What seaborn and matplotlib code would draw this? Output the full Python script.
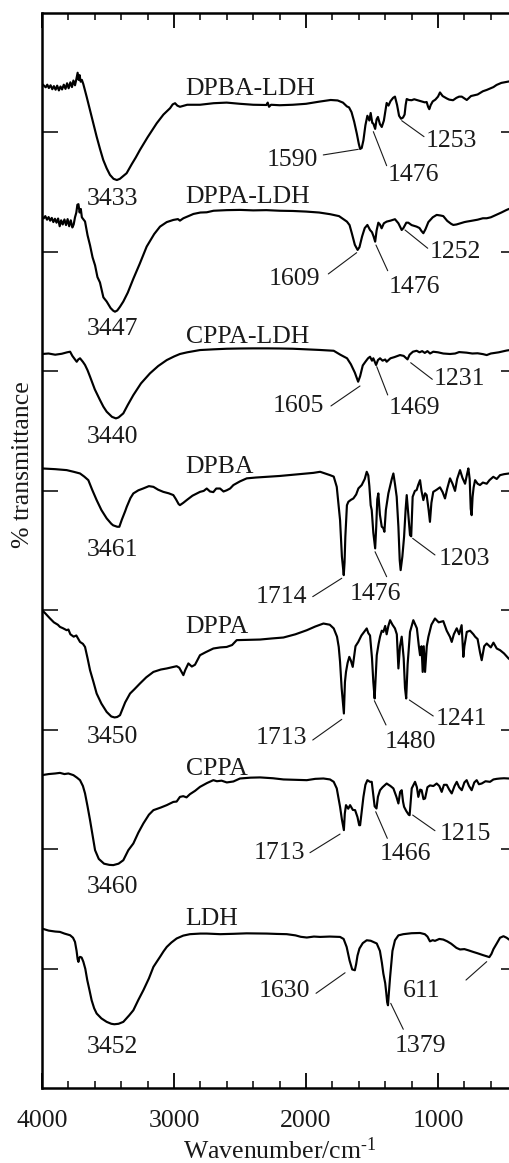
import numpy as np
import matplotlib
matplotlib.use("Agg")
import matplotlib.pyplot as plt
import seaborn as sns
from matplotlib.ticker import MultipleLocator

# ---- FTIR spectra: (wavenumber / cm^-1, stacked % transmittance, arbitrary offset units) ----
dpba_ldh = [
    (4000, 8.406), (3985, 8.392), (3972, 8.378), (3960, 8.400), (3948, 8.372), (3935, 8.395),
    (3922, 8.362), (3910, 8.388), (3897, 8.358), (3885, 8.392), (3872, 8.352), (3860, 8.385),
    (3848, 8.360), (3835, 8.400), (3822, 8.365), (3810, 8.412), (3798, 8.370), (3785, 8.420),
    (3773, 8.380), (3762, 8.435), (3750, 8.395), (3740, 8.445), (3730, 8.500), (3722, 8.440),
    (3715, 8.480), (3707, 8.425), (3698, 8.440), (3687, 8.405), (3675, 8.355), (3662, 8.300),
    (3645, 8.225), (3624, 8.132), (3605, 8.050), (3586, 7.965), (3560, 7.860), (3536, 7.770),
    (3510, 7.700), (3485, 7.645), (3458, 7.612), (3433, 7.602), (3410, 7.612), (3385, 7.635),
    (3359, 7.659), (3320, 7.735), (3290, 7.790), (3258, 7.854), (3200, 7.960), (3131, 8.077),
    (3080, 8.150), (3030, 8.203), (3010, 8.235), (2992, 8.245), (2975, 8.225), (2955, 8.215),
    (2900, 8.232), (2803, 8.232), (2700, 8.245), (2601, 8.250), (2500, 8.240), (2400, 8.232),
    (2300, 8.230), (2290, 8.250), (2280, 8.215), (2265, 8.232), (2200, 8.228), (2100, 8.232),
    (2000, 8.240), (1900, 8.258), (1813, 8.272), (1760, 8.268), (1720, 8.250), (1690, 8.218),
    (1674, 8.210), (1655, 8.170), (1635, 8.090), (1615, 7.990), (1600, 7.905), (1590, 7.862),
    (1578, 7.870), (1565, 7.935), (1550, 8.060), (1535, 8.140), (1520, 8.100), (1510, 8.163),
    (1498, 8.080), (1490, 8.075), (1476, 8.030), (1465, 8.110), (1455, 8.130), (1440, 8.070),
    (1426, 8.046), (1410, 8.100), (1400, 8.170), (1389, 8.247), (1375, 8.225), (1360, 8.262),
    (1340, 8.290), (1326, 8.300), (1310, 8.230), (1295, 8.140), (1280, 8.115), (1265, 8.125),
    (1253, 8.150), (1245, 8.230), (1237, 8.280), (1220, 8.272), (1200, 8.270), (1180, 8.278),
    (1162, 8.272), (1140, 8.265), (1120, 8.258), (1100, 8.252), (1086, 8.255), (1075, 8.215),
    (1066, 8.195), (1055, 8.230), (1040, 8.260), (1020, 8.275), (1000, 8.300), (985, 8.335),
    (965, 8.305), (950, 8.295), (934, 8.285), (915, 8.275), (900, 8.272), (886, 8.270),
    (860, 8.290), (840, 8.300), (820, 8.300), (800, 8.285), (782, 8.272), (765, 8.290),
    (750, 8.305), (732, 8.310), (700, 8.318), (682, 8.330), (660, 8.345), (631, 8.356),
    (600, 8.370), (580, 8.380), (556, 8.398), (520, 8.415), (465, 8.426), (430, 8.435),
    (400, 8.440),
]

dppa_ldh = [
    (4000, 7.295), (3988, 7.280), (3975, 7.300), (3962, 7.270), (3950, 7.292), (3938, 7.262),
    (3926, 7.285), (3914, 7.250), (3902, 7.278), (3890, 7.245), (3878, 7.280), (3866, 7.215),
    (3855, 7.265), (3843, 7.230), (3830, 7.272), (3818, 7.225), (3806, 7.275), (3794, 7.215),
    (3782, 7.265), (3770, 7.205), (3760, 7.230), (3750, 7.290), (3740, 7.330), (3732, 7.395),
    (3724, 7.400), (3715, 7.330), (3706, 7.360), (3698, 7.290), (3688, 7.275), (3674, 7.255),
    (3655, 7.140), (3636, 7.055), (3617, 6.955), (3598, 6.888), (3580, 6.790), (3561, 6.745),
    (3535, 6.620), (3510, 6.585), (3480, 6.530), (3460, 6.508), (3447, 6.500), (3430, 6.510),
    (3410, 6.540), (3384, 6.585), (3350, 6.660), (3308, 6.776), (3260, 6.900), (3207, 7.045),
    (3150, 7.150), (3106, 7.212), (3055, 7.250), (3005, 7.268), (2970, 7.275), (2955, 7.262),
    (2929, 7.282), (2880, 7.305), (2853, 7.318), (2800, 7.330), (2752, 7.332), (2700, 7.345),
    (2600, 7.350), (2500, 7.352), (2400, 7.348), (2300, 7.350), (2200, 7.345), (2100, 7.343),
    (2000, 7.338), (1900, 7.330), (1817, 7.316), (1750, 7.300), (1690, 7.254), (1670, 7.225),
    (1653, 7.157), (1630, 7.060), (1609, 7.017), (1595, 7.040), (1575, 7.130), (1555, 7.200),
    (1535, 7.226), (1515, 7.184), (1500, 7.165), (1488, 7.130), (1476, 7.086), (1465, 7.180),
    (1452, 7.245), (1440, 7.230), (1427, 7.198), (1410, 7.240), (1389, 7.254), (1360, 7.262),
    (1326, 7.274), (1300, 7.240), (1275, 7.184), (1262, 7.200), (1240, 7.245), (1225, 7.245),
    (1200, 7.225), (1162, 7.212), (1140, 7.200), (1125, 7.175), (1111, 7.157), (1095, 7.190),
    (1073, 7.250), (1040, 7.290), (1010, 7.310), (980, 7.305), (960, 7.300), (930, 7.260),
    (900, 7.235), (884, 7.226), (860, 7.230), (830, 7.240), (800, 7.250), (782, 7.254),
    (750, 7.260), (700, 7.270), (660, 7.282), (631, 7.282), (600, 7.290), (560, 7.310),
    (520, 7.330), (480, 7.352), (440, 7.370), (400, 7.380),
]

cppa_ldh = [
    (4000, 6.146), (3950, 6.150), (3900, 6.140), (3850, 6.148), (3810, 6.160), (3787, 6.165),
    (3770, 6.130), (3750, 6.100), (3737, 6.081), (3725, 6.100), (3712, 6.110), (3690, 6.080),
    (3674, 6.054), (3655, 6.010), (3636, 5.956), (3600, 5.850), (3561, 5.761), (3535, 5.705),
    (3510, 5.663), (3470, 5.620), (3440, 5.607), (3420, 5.615), (3384, 5.649), (3350, 5.720),
    (3308, 5.802), (3250, 5.900), (3182, 5.984), (3120, 6.045), (3055, 6.095), (3000, 6.125),
    (2955, 6.146), (2900, 6.160), (2803, 6.179), (2700, 6.185), (2600, 6.190), (2500, 6.192),
    (2400, 6.193), (2297, 6.193), (2200, 6.192), (2100, 6.190), (2000, 6.185), (1900, 6.180),
    (1790, 6.173), (1740, 6.140), (1689, 6.110), (1660, 6.060), (1630, 5.990), (1605, 5.914),
    (1590, 5.960), (1570, 6.050), (1550, 6.081), (1530, 6.110), (1515, 6.123), (1500, 6.090),
    (1490, 6.110), (1469, 6.054), (1455, 6.095), (1439, 6.110), (1420, 6.090), (1400, 6.100),
    (1389, 6.081), (1360, 6.110), (1330, 6.120), (1288, 6.137), (1260, 6.130), (1231, 6.101),
    (1215, 6.140), (1190, 6.165), (1162, 6.173), (1140, 6.160), (1120, 6.170), (1100, 6.155),
    (1080, 6.170), (1060, 6.150), (1036, 6.165), (1000, 6.160), (960, 6.150), (909, 6.146),
    (870, 6.150), (840, 6.162), (783, 6.157), (740, 6.150), (700, 6.152), (660, 6.145),
    (631, 6.137), (600, 6.150), (540, 6.160), (480, 6.175), (455, 6.179), (400, 6.185),
]

dpba = [
    (4000, 5.188), (3900, 5.182), (3813, 5.174), (3760, 5.160), (3712, 5.146), (3680, 5.120),
    (3649, 5.090), (3620, 5.010), (3586, 4.923), (3550, 4.840), (3510, 4.770), (3475, 4.725),
    (3461, 4.712), (3430, 4.700), (3414, 4.700), (3395, 4.760), (3370, 4.830), (3358, 4.867),
    (3330, 4.940), (3308, 4.979), (3270, 5.005), (3232, 5.021), (3190, 5.040), (3156, 5.034),
    (3120, 5.010), (3081, 4.992), (3040, 4.980), (3005, 4.965), (2985, 4.930), (2965, 4.890),
    (2955, 4.881), (2930, 4.900), (2904, 4.923), (2860, 4.960), (2803, 4.992), (2775, 5.000),
    (2752, 5.020), (2727, 4.995), (2702, 4.990), (2680, 5.020), (2651, 5.020), (2625, 4.995),
    (2601, 5.005), (2575, 5.020), (2550, 5.049), (2500, 5.080), (2449, 5.105), (2380, 5.112),
    (2297, 5.118), (2200, 5.125), (2100, 5.135), (2045, 5.141), (1944, 5.151), (1893, 5.160),
    (1818, 5.132), (1790, 5.120), (1767, 5.034), (1742, 4.756), (1728, 4.450), (1714, 4.295),
    (1708, 4.400), (1702, 4.616), (1690, 4.880), (1679, 4.909), (1660, 4.925), (1641, 4.937),
    (1620, 4.970), (1603, 5.021), (1578, 5.049), (1555, 5.100), (1540, 5.160), (1528, 5.130),
    (1520, 5.040), (1510, 4.880), (1502, 4.839), (1490, 4.650), (1476, 4.519), (1468, 4.700),
    (1460, 4.930), (1452, 4.979), (1440, 4.800), (1426, 4.700), (1415, 4.690), (1406, 4.658),
    (1395, 4.840), (1376, 4.979), (1350, 5.100), (1338, 5.146), (1325, 5.050), (1313, 4.951),
    (1300, 4.700), (1290, 4.420), (1283, 4.337), (1270, 4.450), (1257, 4.616), (1245, 4.850),
    (1237, 4.965), (1225, 4.800), (1212, 4.630), (1203, 4.620), (1192, 4.951), (1175, 5.000),
    (1162, 5.007), (1150, 5.050), (1136, 5.090), (1125, 5.000), (1111, 4.923), (1098, 4.980),
    (1086, 4.965), (1072, 4.850), (1061, 4.741), (1050, 4.900), (1036, 4.992), (1010, 5.010),
    (985, 5.030), (965, 4.990), (947, 4.937), (930, 5.020), (909, 5.105), (890, 5.060),
    (871, 5.000), (855, 5.100), (833, 5.174), (815, 5.110), (795, 5.060), (780, 5.140),
    (770, 5.188), (760, 5.100), (752, 4.850), (745, 4.797), (738, 4.950), (730, 5.030),
    (719, 5.090), (700, 5.060), (682, 5.049), (660, 5.070), (631, 5.060), (610, 5.090),
    (581, 5.118), (555, 5.100), (530, 5.132), (500, 5.140), (464, 5.146), (430, 5.150),
    (400, 5.150),
]

dppa = [
    (4000, 4.002), (3975, 3.975), (3939, 3.932), (3910, 3.900), (3880, 3.880), (3864, 3.862),
    (3840, 3.850), (3813, 3.834), (3800, 3.840), (3785, 3.800), (3760, 3.780), (3740, 3.790),
    (3712, 3.736), (3690, 3.720), (3674, 3.694), (3655, 3.600), (3636, 3.499), (3610, 3.400),
    (3586, 3.304), (3550, 3.220), (3510, 3.150), (3475, 3.112), (3450, 3.104), (3430, 3.108),
    (3409, 3.123), (3370, 3.230), (3333, 3.304), (3300, 3.340), (3258, 3.388), (3210, 3.440),
    (3156, 3.485), (3100, 3.505), (3055, 3.514), (3010, 3.525), (2980, 3.533), (2960, 3.520),
    (2940, 3.480), (2929, 3.458), (2915, 3.500), (2891, 3.556), (2865, 3.530), (2841, 3.545),
    (2803, 3.625), (2760, 3.650), (2702, 3.681), (2650, 3.690), (2601, 3.694), (2560, 3.710),
    (2525, 3.751), (2450, 3.753), (2348, 3.756), (2260, 3.765), (2171, 3.773), (2080, 3.800),
    (1994, 3.834), (1930, 3.865), (1868, 3.890), (1820, 3.880), (1790, 3.849), (1765, 3.780),
    (1752, 3.694), (1742, 3.569), (1730, 3.350), (1713, 3.137), (1705, 3.400), (1697, 3.485),
    (1685, 3.560), (1672, 3.611), (1660, 3.580), (1646, 3.527), (1625, 3.700), (1604, 3.736),
    (1580, 3.790), (1560, 3.820), (1540, 3.849), (1528, 3.810), (1515, 3.790), (1500, 3.600),
    (1490, 3.400), (1480, 3.263), (1472, 3.450), (1464, 3.625), (1450, 3.720), (1439, 3.780),
    (1426, 3.830), (1414, 3.820), (1400, 3.870), (1389, 3.800), (1376, 3.870), (1363, 3.918),
    (1345, 3.880), (1326, 3.849), (1312, 3.800), (1300, 3.514), (1288, 3.700), (1275, 3.780),
    (1260, 3.600), (1250, 3.350), (1241, 3.263), (1230, 3.550), (1212, 3.820), (1187, 3.918),
    (1160, 3.850), (1145, 3.700), (1136, 3.625), (1125, 3.700), (1116, 3.485), (1108, 3.700),
    (1098, 3.485), (1085, 3.700), (1073, 3.778), (1050, 3.880), (1023, 3.932), (995, 3.900),
    (960, 3.910), (934, 3.830), (909, 3.778), (896, 3.736), (880, 3.800), (858, 3.850),
    (840, 3.800), (821, 3.876), (808, 3.611), (800, 3.700), (782, 3.820), (757, 3.830),
    (732, 3.800), (719, 3.780), (700, 3.760), (682, 3.650), (669, 3.583), (650, 3.700),
    (631, 3.723), (600, 3.690), (580, 3.730), (555, 3.681), (530, 3.667), (500, 3.640),
    (465, 3.597), (430, 3.570), (400, 3.560),
]

cppa = [
    (4000, 2.621), (3950, 2.630), (3900, 2.635), (3864, 2.640), (3830, 2.630), (3800, 2.635),
    (3762, 2.621), (3735, 2.600), (3712, 2.579), (3690, 2.530), (3674, 2.468), (3655, 2.360),
    (3636, 2.244), (3617, 2.120), (3598, 1.993), (3570, 1.920), (3530, 1.880), (3490, 1.870),
    (3460, 1.868), (3420, 1.880), (3384, 1.909), (3346, 1.993), (3308, 2.049), (3270, 2.140),
    (3232, 2.217), (3190, 2.290), (3156, 2.328), (3100, 2.350), (3055, 2.370), (3005, 2.397),
    (2980, 2.400), (2955, 2.439), (2930, 2.445), (2905, 2.435), (2879, 2.462), (2840, 2.490),
    (2803, 2.523), (2750, 2.555), (2702, 2.579), (2675, 2.570), (2640, 2.575), (2600, 2.560),
    (2550, 2.568), (2500, 2.593), (2420, 2.600), (2348, 2.602), (2250, 2.595), (2171, 2.585),
    (2080, 2.582), (1994, 2.579), (1930, 2.590), (1868, 2.593), (1818, 2.585), (1790, 2.565),
    (1767, 2.510), (1742, 2.356), (1728, 2.250), (1713, 2.161), (1706, 2.300), (1697, 2.370),
    (1680, 2.340), (1666, 2.370), (1645, 2.330), (1628, 2.328), (1610, 2.270), (1597, 2.202),
    (1590, 2.202), (1580, 2.300), (1565, 2.439), (1550, 2.540), (1535, 2.579), (1515, 2.565),
    (1502, 2.565), (1490, 2.450), (1480, 2.360), (1466, 2.342), (1455, 2.440), (1439, 2.495),
    (1420, 2.520), (1389, 2.551), (1360, 2.530), (1338, 2.510), (1315, 2.440), (1300, 2.384),
    (1287, 2.480), (1275, 2.495), (1265, 2.400), (1257, 2.356), (1240, 2.320), (1222, 2.290),
    (1215, 2.286), (1205, 2.420), (1199, 2.510), (1174, 2.565), (1160, 2.520), (1149, 2.439),
    (1135, 2.500), (1124, 2.495), (1110, 2.420), (1098, 2.426), (1080, 2.520), (1061, 2.535),
    (1035, 2.530), (1010, 2.551), (990, 2.530), (972, 2.481), (955, 2.540), (934, 2.540),
    (915, 2.500), (896, 2.468), (875, 2.530), (858, 2.565), (840, 2.520), (820, 2.495),
    (800, 2.560), (783, 2.579), (765, 2.530), (745, 2.495), (725, 2.560), (707, 2.579),
    (690, 2.545), (669, 2.551), (640, 2.570), (606, 2.565), (580, 2.585), (555, 2.590),
    (530, 2.593), (500, 2.595), (464, 2.593), (430, 2.595), (400, 2.600),
]

ldh = [
    (4000, 1.337), (3950, 1.320), (3900, 1.312), (3864, 1.309), (3830, 1.295), (3787, 1.281),
    (3765, 1.260), (3750, 1.225), (3738, 1.150), (3730, 1.080), (3724, 1.058), (3718, 1.090),
    (3712, 1.100), (3700, 1.095), (3687, 1.060), (3672, 1.000), (3657, 0.905), (3640, 0.820),
    (3624, 0.737), (3605, 0.670), (3586, 0.626), (3550, 0.585), (3510, 0.556), (3475, 0.540),
    (3452, 0.536), (3420, 0.540), (3384, 0.556), (3340, 0.610), (3308, 0.653), (3270, 0.740),
    (3232, 0.821), (3190, 0.920), (3156, 1.016), (3130, 1.060), (3106, 1.100), (3080, 1.145),
    (3055, 1.183), (3020, 1.220), (2980, 1.254), (2930, 1.278), (2879, 1.290), (2800, 1.295),
    (2752, 1.295), (2650, 1.290), (2550, 1.293), (2450, 1.297), (2297, 1.295), (2220, 1.292),
    (2146, 1.290), (2080, 1.280), (2040, 1.268), (1994, 1.262), (1940, 1.270), (1893, 1.267),
    (1820, 1.270), (1742, 1.267), (1715, 1.250), (1692, 1.183), (1670, 1.070), (1650, 0.995),
    (1630, 0.988), (1620, 1.040), (1610, 1.110), (1595, 1.170), (1570, 1.215), (1540, 1.239),
    (1510, 1.235), (1490, 1.225), (1464, 1.212), (1440, 1.150), (1425, 1.050), (1414, 0.960),
    (1400, 0.880), (1392, 0.800), (1385, 0.720), (1379, 0.695), (1372, 0.800), (1363, 0.930),
    (1345, 1.150), (1326, 1.239), (1300, 1.280), (1263, 1.290), (1200, 1.298), (1136, 1.300),
    (1100, 1.290), (1080, 1.270), (1061, 1.230), (1040, 1.240), (1023, 1.234), (990, 1.250),
    (960, 1.245), (930, 1.230), (900, 1.210), (860, 1.175), (833, 1.162), (800, 1.165),
    (770, 1.155), (732, 1.141), (700, 1.130), (660, 1.115), (631, 1.105), (611, 1.098),
    (595, 1.125), (580, 1.165), (555, 1.212), (530, 1.260), (504, 1.273), (480, 1.260),
    (462, 1.245), (430, 1.235), (400, 1.230),
]

# sample names and where each is written (x, baseline y)
sample_names = ["DPBA-LDH", "DPPA-LDH", "CPPA-LDH", "DPBA", "DPPA", "CPPA", "LDH"]
sample_spectra = [dpba_ldh, dppa_ldh, cppa_ldh, dpba, dppa, cppa, ldh]
name_pos = [(2911, 8.314), (2911, 7.407), (2911, 6.236), (2911, 5.152),
            (2911, 3.813), (2911, 2.622), (2911, 1.367)]

# O-H band labels (no leader line)
oh_labels = ["3433", "3447", "3440", "3461", "3450", "3460", "3452"]
oh_pos = [(3464, 7.393), (3464, 6.305), (3464, 5.404), (3464, 4.455),
          (3464, 2.888), (3464, 1.632), (3464, 0.293)]

# peak labels with leader lines: text position, then line start -> line end
peak_labels = ["1590", "1476", "1253",
               "1609", "1476", "1252",
               "1605", "1469", "1231",
               "1714", "1476", "1203",
               "1713", "1480", "1241",
               "1713", "1466", "1215",
               "1630", "611", "1379"]
peak_text_pos = [(2102, 7.722), (1183, 7.594), (899, 7.881),
                 (2089, 6.724), (1176, 6.654), (871, 6.947),
                 (2055, 5.663), (1176, 5.641), (839, 5.887),
                 (2189, 4.059), (1475, 4.087), (801, 4.380),
                 (2189, 2.879), (1212, 2.846), (820, 3.041),
                 (2204, 1.917), (1250, 1.911), (795, 2.078),
                 (2161, 0.762), (1126, 0.767), (1132, 0.306)]
leader_lines = [((1869, 7.812), (1604, 7.859)), ((1389, 7.722), (1490, 8.007)), ((1106, 7.965), (1275, 8.099)),
                ((1831, 6.816), (1616, 6.994)), ((1381, 6.843), (1470, 7.058)), ((1078, 7.031), (1250, 7.184)),
                ((1811, 5.711), (1591, 5.878)), ((1381, 5.803), (1464, 6.040)), ((1043, 5.934), (1207, 6.073)),
                ((1949, 4.115), (1729, 4.269)), ((1389, 4.282), (1477, 4.491)), ((1023, 4.464), (1192, 4.603)),
                ((1949, 2.915), (1729, 3.088)), ((1394, 3.041), (1482, 3.244)), ((1036, 3.116), (1217, 3.250)),
                ((1970, 1.972), (1742, 2.128)), ((1384, 2.092), (1472, 2.315)), ((1023, 2.156), (1192, 2.287)),
                ((1924, 0.795), (1704, 0.967)), ((788, 0.906), (631, 1.060)), ((1263, 0.494), (1358, 0.711))]

x_major = [4000, 3000, 2000, 1000]
x_label = "Wavenumber/cm$^{\u2010 1}$"
y_label = "% transmittance"

# ---- style ----
sns.set_theme(style="ticks")
plt.rcParams["font.family"] = ["Liberation Serif", "DejaVu Serif"]
plt.rcParams["mathtext.fontset"] = "custom"
plt.rcParams["mathtext.rm"] = "Liberation Serif"
plt.rcParams["mathtext.default"] = "regular"

INK = "#1a1a1a"
FS = 18.5

fig = plt.figure(figsize=(5.09, 11.63), dpi=100)
fig.patch.set_facecolor("white")
ax = fig.add_axes([42 / 509, 74.7 / 1163, 475.2 / 509, 1075.3 / 1163])
ax.set_facecolor("white")

for spec in sample_spectra:
    arr = np.array(spec, dtype=float)
    sns.lineplot(x=arr[:, 0], y=arr[:, 1], ax=ax, sort=False, estimator=None,
                 color="black", linewidth=1.55, legend=False)

for name, (tx, ty) in zip(sample_names, name_pos):
    ax.text(tx, ty, name, ha="left", va="baseline", fontsize=FS, color=INK)

for lab, (tx, ty) in zip(oh_labels, oh_pos):
    ax.text(tx, ty, lab, ha="center", va="baseline", fontsize=FS, color=INK)

for lab, (tx, ty), (p0, p1) in zip(peak_labels, peak_text_pos, leader_lines):
    ax.text(tx, ty, lab, ha="center", va="baseline", fontsize=FS, color=INK)
    ax.plot([p0[0], p1[0]], [p0[1], p1[1]], color=INK, linewidth=0.8)

ax.set_xlim(4000, 400)
ax.set_ylim(0, 9)
ax.xaxis.set_major_locator(MultipleLocator(1000))
ax.xaxis.set_minor_locator(MultipleLocator(200))
ax.set_xticks(x_major)
ax.set_xticklabels([str(v) for v in x_major])
ax.set_yticks(range(1, 9))
ax.set_yticklabels([])

ax.tick_params(axis="x", which="major", direction="in", top=True, bottom=True,
               length=11, width=1.3, pad=15.5, labelsize=FS, colors="black", labelcolor=INK)
ax.tick_params(axis="x", which="minor", direction="in", top=True, bottom=True,
               length=5, width=1.3)
ax.tick_params(axis="y", which="major", direction="in", left=True, right=True,
               length=11.5, width=1.3, labelleft=False)

for s in ax.spines.values():
    s.set_linewidth(1.8)
    s.set_color("black")

ax.set_xlabel(x_label, fontsize=FS, color=INK, labelpad=4)
ax.set_ylabel(y_label, fontsize=FS, color=INK, va="center")
ax.yaxis.set_label_coords(-0.041, 0.58)

fig.savefig("out.png", dpi=100, facecolor="white")
